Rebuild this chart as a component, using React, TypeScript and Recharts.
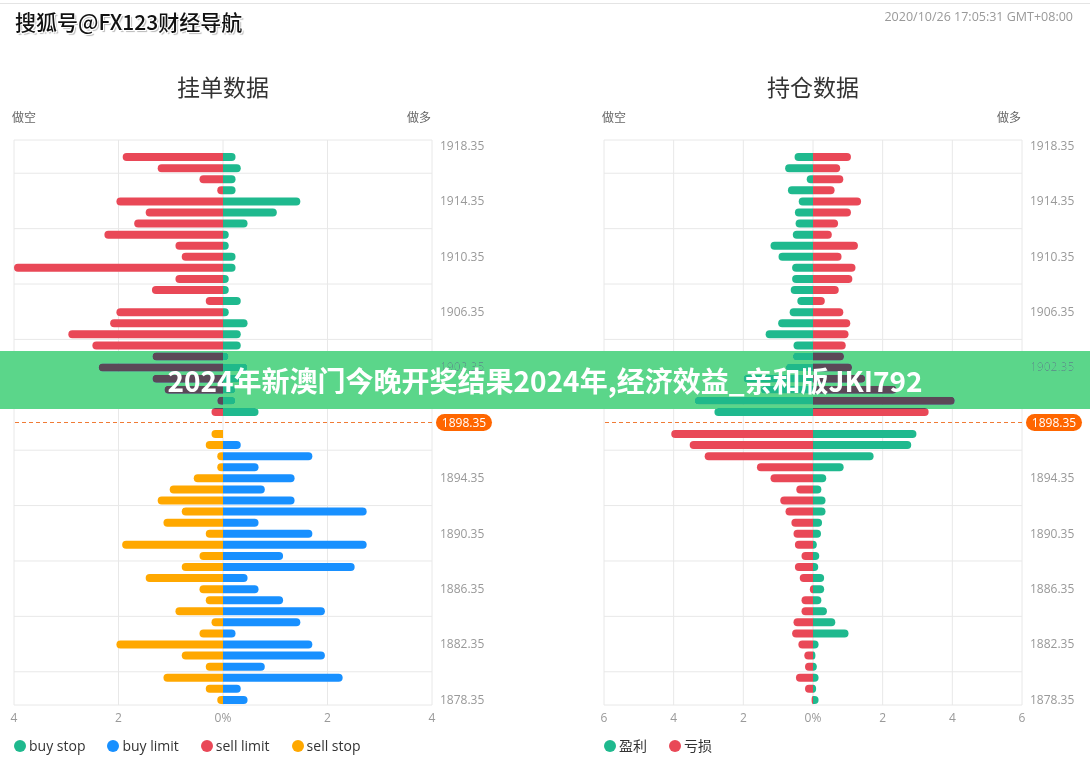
import { BarChart, Bar, XAxis, YAxis, CartesianGrid, ReferenceLine } from "recharts";

// price ladder, top to bottom
const prices = [
  "1918.35", "1917.55", "1916.75", "1915.95", "1915.15", "1914.35", "1913.55", "1912.75", "1911.95", "1911.15",
  "1910.35", "1909.55", "1908.75", "1907.95", "1907.15", "1906.35", "1905.55", "1904.75", "1903.95", "1903.15",
  "1902.35", "1901.55", "1900.75", "1899.95", "1899.15", "1898.35", "1897.55", "1896.75", "1895.95", "1895.15",
  "1894.35", "1893.55", "1892.75", "1891.95", "1891.15", "1890.35", "1889.55", "1888.75", "1887.95", "1887.15",
  "1886.35", "1885.55", "1884.75", "1883.95", "1883.15", "1882.35", "1881.55", "1880.75", "1879.95", "1879.15",
  "1878.35",
];
const currentPrice = "1898.35";
const gridPrices = [
  "1918.35", "1915.95", "1911.95", "1907.95", "1903.95", "1899.95",
  "1895.95", "1891.95", "1887.95", "1883.95", "1879.95",
];

// 挂单数据 (%)
const sellLimit = [
  0, -1.92, -1.25, -0.45, -0.11, -2.04, -1.48, -1.7, -2.27, -0.91,
  -0.79, -4.0, -0.91, -1.36, -0.33, -2.04, -2.16, -2.96, -2.5, -1.35,
  -2.38, -1.35, -1.12, -0.11, -0.22, 0, 0, 0, 0, 0,
  0, 0, 0, 0, 0, 0, 0, 0, 0, 0,
  0, 0, 0, 0, 0, 0, 0, 0, 0, 0,
  0,
];
const buyStop = [
  0, 0.24, 0.34, 0.24, 0.24, 1.48, 1.03, 0.47, 0.11, 0.11,
  0.24, 0.24, 0.11, 0.11, 0.34, 0.11, 0.47, 0.34, 0.34, 0.11,
  0.47, 0.34, 0.24, 0.24, 0.68, 0, 0, 0, 0, 0,
  0, 0, 0, 0, 0, 0, 0, 0, 0, 0,
  0, 0, 0, 0, 0, 0, 0, 0, 0, 0,
  0,
];
const sellStop = [
  0, 0, 0, 0, 0, 0, 0, 0, 0, 0,
  0, 0, 0, 0, 0, 0, 0, 0, 0, 0,
  0, 0, 0, 0, 0, 0, -0.22, -0.33, -0.11, -0.11,
  -0.56, -1.02, -1.25, -0.79, -1.14, -0.33, -1.93, -0.45, -0.79, -1.48,
  -0.45, -0.33, -0.91, -0.22, -0.45, -2.04, -0.79, -0.33, -1.14, -0.33,
  -0.11,
];
const buyLimit = [
  0, 0, 0, 0, 0, 0, 0, 0, 0, 0,
  0, 0, 0, 0, 0, 0, 0, 0, 0, 0,
  0, 0, 0, 0, 0, 0, 0, 0.34, 1.71, 0.68,
  1.37, 0.8, 1.37, 2.75, 0.68, 1.71, 2.75, 1.15, 2.52, 0.47,
  0.68, 1.15, 1.95, 1.48, 0.24, 1.71, 1.95, 0.8, 2.29, 0.34,
  0.47,
];

// 持仓数据 (%)
const shortProfit = [
  0, -0.53, -0.8, -0.18, -0.72, -0.41, -0.52, -0.5, -0.58, -1.22,
  -0.99, -0.6, -0.6, -0.64, -0.45, -0.67, -1.0, -1.36, -0.56, -0.58,
  -0.78, -2.0, -1.5, -3.4, -2.83, 0, 0, 0, 0, 0,
  0, 0, 0, 0, 0, 0, 0, 0, 0, 0,
  0, 0, 0, 0, 0, 0, 0, 0, 0, 0,
  0,
];
const longLoss = [
  0, 1.09, 0.78, 0.87, 0.62, 1.38, 1.09, 0.72, 0.54, 1.29,
  0.82, 1.22, 1.13, 0.74, 0.34, 0.87, 1.07, 1.02, 0.94, 0.89,
  1.12, 1.5, 2.4, 4.07, 3.32, 0, 0, 0, 0, 0,
  0, 0, 0, 0, 0, 0, 0, 0, 0, 0,
  0, 0, 0, 0, 0, 0, 0, 0, 0, 0,
  0,
];
const shortLoss = [
  0, 0, 0, 0, 0, 0, 0, 0, 0, 0,
  0, 0, 0, 0, 0, 0, 0, 0, 0, 0,
  0, 0, 0, 0, 0, 0, -4.07, -3.54, -3.11, -1.61,
  -1.22, -0.48, -0.94, -0.79, -0.62, -0.56, -0.52, -0.33, -0.52, -0.38,
  -0.09, -0.33, -0.33, -0.56, -0.6, -0.42, -0.25, -0.23, -0.49, -0.23,
  -0.04,
];
const longProfit = [
  0, 0, 0, 0, 0, 0, 0, 0, 0, 0,
  0, 0, 0, 0, 0, 0, 0, 0, 0, 0,
  0, 0, 0, 0, 0, 0, 2.97, 2.82, 1.74, 0.88,
  0.38, 0.24, 0.36, 0.36, 0.26, 0.23, 0.11, 0.18, 0.15, 0.32,
  0.32, 0.24, 0.4, 0.64, 1.02, 0.16, 0.07, 0.11, 0.16, 0.09,
  0.16,
];

const ordersTicks = [-4, -2, 0, 2, 4];
const positionsTicks = [-6, -4, -2, 0, 2, 4, 6];

const GREEN = "#1fb98e";
const BLUE = "#1890ff";
const RED = "#e94857";
const ORANGE = "#ffa800";
const GRID = "#e8e8e8";
const FONT = '"Open Sans", "Noto Sans CJK SC", sans-serif';
const CJK = '"Noto Sans CJK SC", "Open Sans", sans-serif';

const ordersData = prices.map((price, i) => ({
  price,
  sellLimit: sellLimit[i],
  buyStop: buyStop[i],
  sellStop: sellStop[i],
  buyLimit: buyLimit[i],
}));

const positionsData = prices.map((price, i) => ({
  price,
  shortProfit: shortProfit[i],
  longLoss: longLoss[i],
  shortLoss: shortLoss[i],
  longProfit: longProfit[i],
}));

type Side = "left" | "right";
type SeriesDef = { key: string; name: string; color: string; side: Side };

const ordersSeries: SeriesDef[] = [
  { key: "buyStop", name: "buy stop", color: GREEN, side: "right" },
  { key: "buyLimit", name: "buy limit", color: BLUE, side: "right" },
  { key: "sellLimit", name: "sell limit", color: RED, side: "left" },
  { key: "sellStop", name: "sell stop", color: ORANGE, side: "left" },
];

const positionsSeries: SeriesDef[] = [
  { key: "shortProfit", name: "盈利", color: GREEN, side: "left" },
  { key: "longLoss", name: "亏损", color: RED, side: "right" },
  { key: "shortLoss", name: "亏损", color: RED, side: "left" },
  { key: "longProfit", name: "盈利", color: GREEN, side: "right" },
];

// bar with a rounded outer end only
const pillShape = (side: Side) => (props: any) => {
  const { x, y, width, height, fill } = props;
  const left = Math.min(x, x + width);
  const w = Math.abs(width);
  if (!w || w < 0.3) return <g />;
  const ry = height / 2;
  const rx = Math.min(ry, w);
  const right = left + w;
  const d =
    side === "right"
      ? `M${left},${y} L${right - rx},${y} A${rx},${ry} 0 0 1 ${right - rx},${y + height} L${left},${y + height} Z`
      : `M${right},${y} L${left + rx},${y} A${rx},${ry} 0 0 0 ${left + rx},${y + height} L${right},${y + height} Z`;
  return <path d={d} fill={fill} />;
};

const PriceBadge = (props: any) => {
  const { x, y, width } = props.viewBox;
  const bx = x + width + 4;
  return (
    <g>
      <rect x={bx} y={y - 8.5} width={56} height={17} rx={8.5} fill="#ff6600" />
      <text x={bx + 28} y={y} dy="0.35em" textAnchor="middle" fill="#fff" fontSize={12} fontFamily={FONT}>
        {currentPrice}
      </text>
    </g>
  );
};

// the badge replaces the tick at the current price
const PriceTick = (props: any) => {
  const { x, y, payload } = props;
  if (payload.value === currentPrice) return <g />;
  return (
    <text x={x} y={y} dy="0.355em" textAnchor="start" fill="#999" fontSize={12} fontFamily={FONT}>
      {payload.value}
    </text>
  );
};

const fmtPct = (v: number) => (v === 0 ? "0%" : String(Math.abs(v)));

type DepthChartProps = {
  data: any[];
  series: SeriesDef[];
  ticks: number[];
  margin: { top: number; right: number; bottom: number; left: number };
};

const DepthChart = ({ data, series, ticks, margin }: DepthChartProps) => {
  const max = ticks[ticks.length - 1];
  return (
    <BarChart
      width={545}
      height={760}
      data={data}
      layout="vertical"
      stackOffset="sign"
      barSize={8}
      margin={margin}
      style={{ fontFamily: FONT }}
    >
      <CartesianGrid horizontal={false} stroke={GRID} />
      {gridPrices.map((p) => (
        <ReferenceLine key={p} y={p} position="start" stroke={GRID} />
      ))}
      <ReferenceLine y={prices[prices.length - 1]} position="end" stroke={GRID} />
      <XAxis
        type="number"
        domain={[-max, max]}
        ticks={ticks}
        tickFormatter={fmtPct}
        axisLine={false}
        tickLine={false}
        tick={{ fill: "#999", fontSize: 12 }}
      />
      <YAxis
        type="category"
        dataKey="price"
        orientation="right"
        interval={4}
        width={60}
        axisLine={false}
        tickLine={false}
        tick={<PriceTick />}
      />
      {series.map((s) => (
        <Bar
          key={s.key}
          dataKey={s.key}
          name={s.name}
          stackId="depth"
          fill={s.color}
          shape={pillShape(s.side)}
          isAnimationActive={false}
        />
      ))}
      <ReferenceLine y={currentPrice} stroke="#f07b35" strokeDasharray="4 3" label={<PriceBadge />} />
    </BarChart>
  );
};

const LegendRow = ({ items, left }: { items: { name: string; color: string }[]; left: number }) => (
  <div style={{ position: "absolute", left, top: 737, display: "flex", alignItems: "center", fontSize: 14, color: "#333", fontFamily: FONT }}>
    {items.map((it) => (
      <div key={it.name} style={{ display: "flex", alignItems: "center", marginRight: 22 }}>
        <span style={{ width: 12, height: 12, borderRadius: 6, background: it.color, marginRight: 3 }} />
        <span style={{ lineHeight: "18px" }}>{it.name}</span>
      </div>
    ))}
  </div>
);

const Label = ({ text, style }: { text: string; style: any }) => (
  <div style={{ position: "absolute", fontSize: 12, color: "#666", lineHeight: "14px", fontFamily: CJK, ...style }}>{text}</div>
);

export default function App() {
  return (
    <div style={{ position: "absolute", left: 0, top: 0, width: 1090, height: 760, overflow: "hidden", background: "#fff", fontFamily: FONT }}>
      <div style={{ position: "absolute", left: 0, top: 3, width: 1090, height: 1, background: "#e4e4e4" }} />
      <div
        style={{
          position: "absolute", left: 15, top: 6, fontSize: 21, fontWeight: 500, color: "#111", fontFamily: CJK, lineHeight: "30px",
          textShadow: "1px 1px 0 #fff, -1px -1px 0 #fff, 1px -1px 0 #fff, -1px 1px 0 #fff, 2px 2px 1px #bbb",
        }}
      >
        搜狐号@FX123财经导航
      </div>
      <div style={{ position: "absolute", right: 17, top: 9, fontSize: 12.5, color: "#999", lineHeight: "16px" }}>
        2020/10/26 17:05:31 GMT+08:00
      </div>

      <div style={{ position: "absolute", left: 14, width: 418, top: 72, textAlign: "center", fontSize: 23, color: "#333", fontFamily: CJK, lineHeight: "28px" }}>
        挂单数据
      </div>
      <div style={{ position: "absolute", left: 604, width: 418, top: 72, textAlign: "center", fontSize: 23, color: "#333", fontFamily: CJK, lineHeight: "28px" }}>
        持仓数据
      </div>
      <Label text="做空" style={{ left: 12, top: 110 }} />
      <Label text="做多" style={{ left: 407, top: 110 }} />
      <Label text="做空" style={{ left: 602, top: 110 }} />
      <Label text="做多" style={{ left: 997, top: 110 }} />

      <div style={{ position: "absolute", left: 0, top: 0 }}>
        <DepthChart data={ordersData} series={ordersSeries} ticks={ordersTicks} margin={{ top: 140, right: 53, bottom: 25, left: 14 }} />
      </div>
      <div style={{ position: "absolute", left: 545, top: 0 }}>
        <DepthChart data={positionsData} series={positionsSeries} ticks={positionsTicks} margin={{ top: 140, right: 8, bottom: 25, left: 59 }} />
      </div>

      <LegendRow left={14} items={ordersSeries.map((s) => ({ name: s.name, color: s.color }))} />
      <LegendRow left={604} items={[{ name: "盈利", color: GREEN }, { name: "亏损", color: RED }]} />

      <div style={{ position: "absolute", left: 0, top: 351, width: 1090, height: 58, background: "#5bd68a", mixBlendMode: "darken" }} />
      <div
        style={{
          position: "absolute", left: 0, top: 351, width: 1090, height: 58, display: "flex", alignItems: "center", justifyContent: "center",
          color: "#fff", fontSize: 28, fontWeight: 700, fontFamily: CJK,
        }}
      >
        2024年新澳门今晚开奖结果2024年,经济效益_亲和版JKI792
      </div>
    </div>
  );
}
